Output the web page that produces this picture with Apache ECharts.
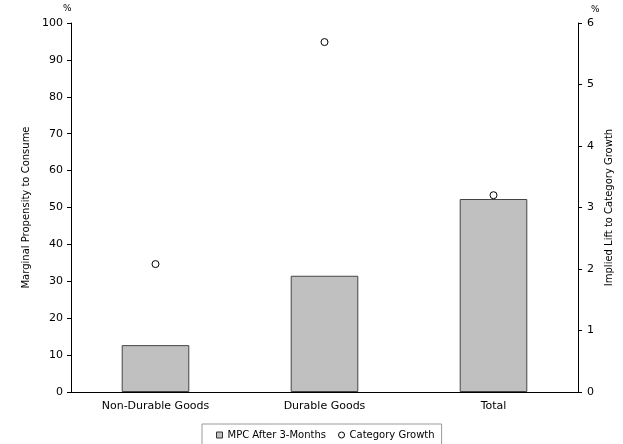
<!DOCTYPE html>
<html><head><meta charset="utf-8">
<script src="https://cdn.jsdelivr.net/npm/echarts@6/dist/echarts.min.js"></script>
<style>html,body{margin:0;padding:0;background:#fff}#c{width:623px;height:444px}</style>
</head><body><div id="c"></div>
<script>
var categories = ['Non-Durable Goods', 'Durable Goods', 'Total'];
var mpcValues = [12.7, 31.5, 52.3];
var growthValues = [2.08, 5.69, 3.2];
var leftTicks = [0, 10, 20, 30, 40, 50, 60, 70, 80, 90, 100];
var rightTicks = [0, 1, 2, 3, 4, 5, 6];

var font = 'DejaVu Sans';
var chart = echarts.init(document.getElementById('c'));
chart.setOption({
  animation: false,
  textStyle: {fontFamily: font},
  grid: {left: 71, right: 45, top: 23, bottom: 52},
  legend: {
    top: 424, left: 202,
    padding: [6, 7, 6, 14],
    borderColor: '#999', borderWidth: 1,
    itemGap: 12, itemWidth: 6, itemHeight: 6,
    textStyle: {fontFamily: font, fontSize: 10, color: '#000'},
    data: [
      {name: 'MPC After 3-Months', icon: 'rect', itemStyle: {color: '#c0c0c0', borderColor: '#333', borderWidth: 1}},
      {name: 'Category Growth', icon: 'circle', itemStyle: {color: '#fff', borderColor: '#000', borderWidth: 1}}
    ]
  },
  graphic: [
    {type: 'text', left: 63, top: 4, style: {text: '%', fontFamily: font, fontSize: 9, fill: '#000'}},
    {type: 'text', left: 591, top: 5, style: {text: '%', fontFamily: font, fontSize: 9, fill: '#000'}}
  ],
  xAxis: {
    type: 'category', data: categories,
    axisLine: {lineStyle: {color: '#000', width: 1}},
    axisTick: {show: false},
    axisLabel: {color: '#000', fontSize: 11, margin: 9, fontFamily: font}
  },
  yAxis: [
    {
      type: 'value', min: 0, max: 100, interval: 10,
      name: 'Marginal Propensity to Consume', nameLocation: 'middle', nameGap: 38,
      nameTextStyle: {color: '#000', fontSize: 10, fontFamily: font},
      axisLine: {show: true, lineStyle: {color: '#000'}},
      axisTick: {show: true, length: 4, lineStyle: {color: '#000'}},
      axisLabel: {color: '#000', fontSize: 11, margin: 8, fontFamily: font},
      splitLine: {show: false}
    },
    {
      type: 'value', min: 0, max: 6, interval: 1,
      name: 'Implied Lift to Category Growth', nameLocation: 'middle', nameGap: 26,
      nameRotate: 90,
      nameTextStyle: {color: '#000', fontSize: 10, fontFamily: font},
      axisLine: {show: true, lineStyle: {color: '#000'}},
      axisTick: {show: true, length: 4, lineStyle: {color: '#000'}},
      axisLabel: {color: '#000', fontSize: 11, margin: 9, fontFamily: font},
      splitLine: {show: false}
    }
  ],
  series: [
    {
      name: 'MPC After 3-Months', type: 'bar', data: mpcValues, yAxisIndex: 0,
      barWidth: '40%',
      itemStyle: {color: '#c0c0c0', borderColor: '#444', borderWidth: 1}
    },
    {
      name: 'Category Growth', type: 'scatter', data: growthValues, yAxisIndex: 1,
      symbol: 'circle', symbolSize: 7,
      itemStyle: {color: '#fff', borderColor: '#000', borderWidth: 1, opacity: 1}
    }
  ]
});
</script></body></html>
